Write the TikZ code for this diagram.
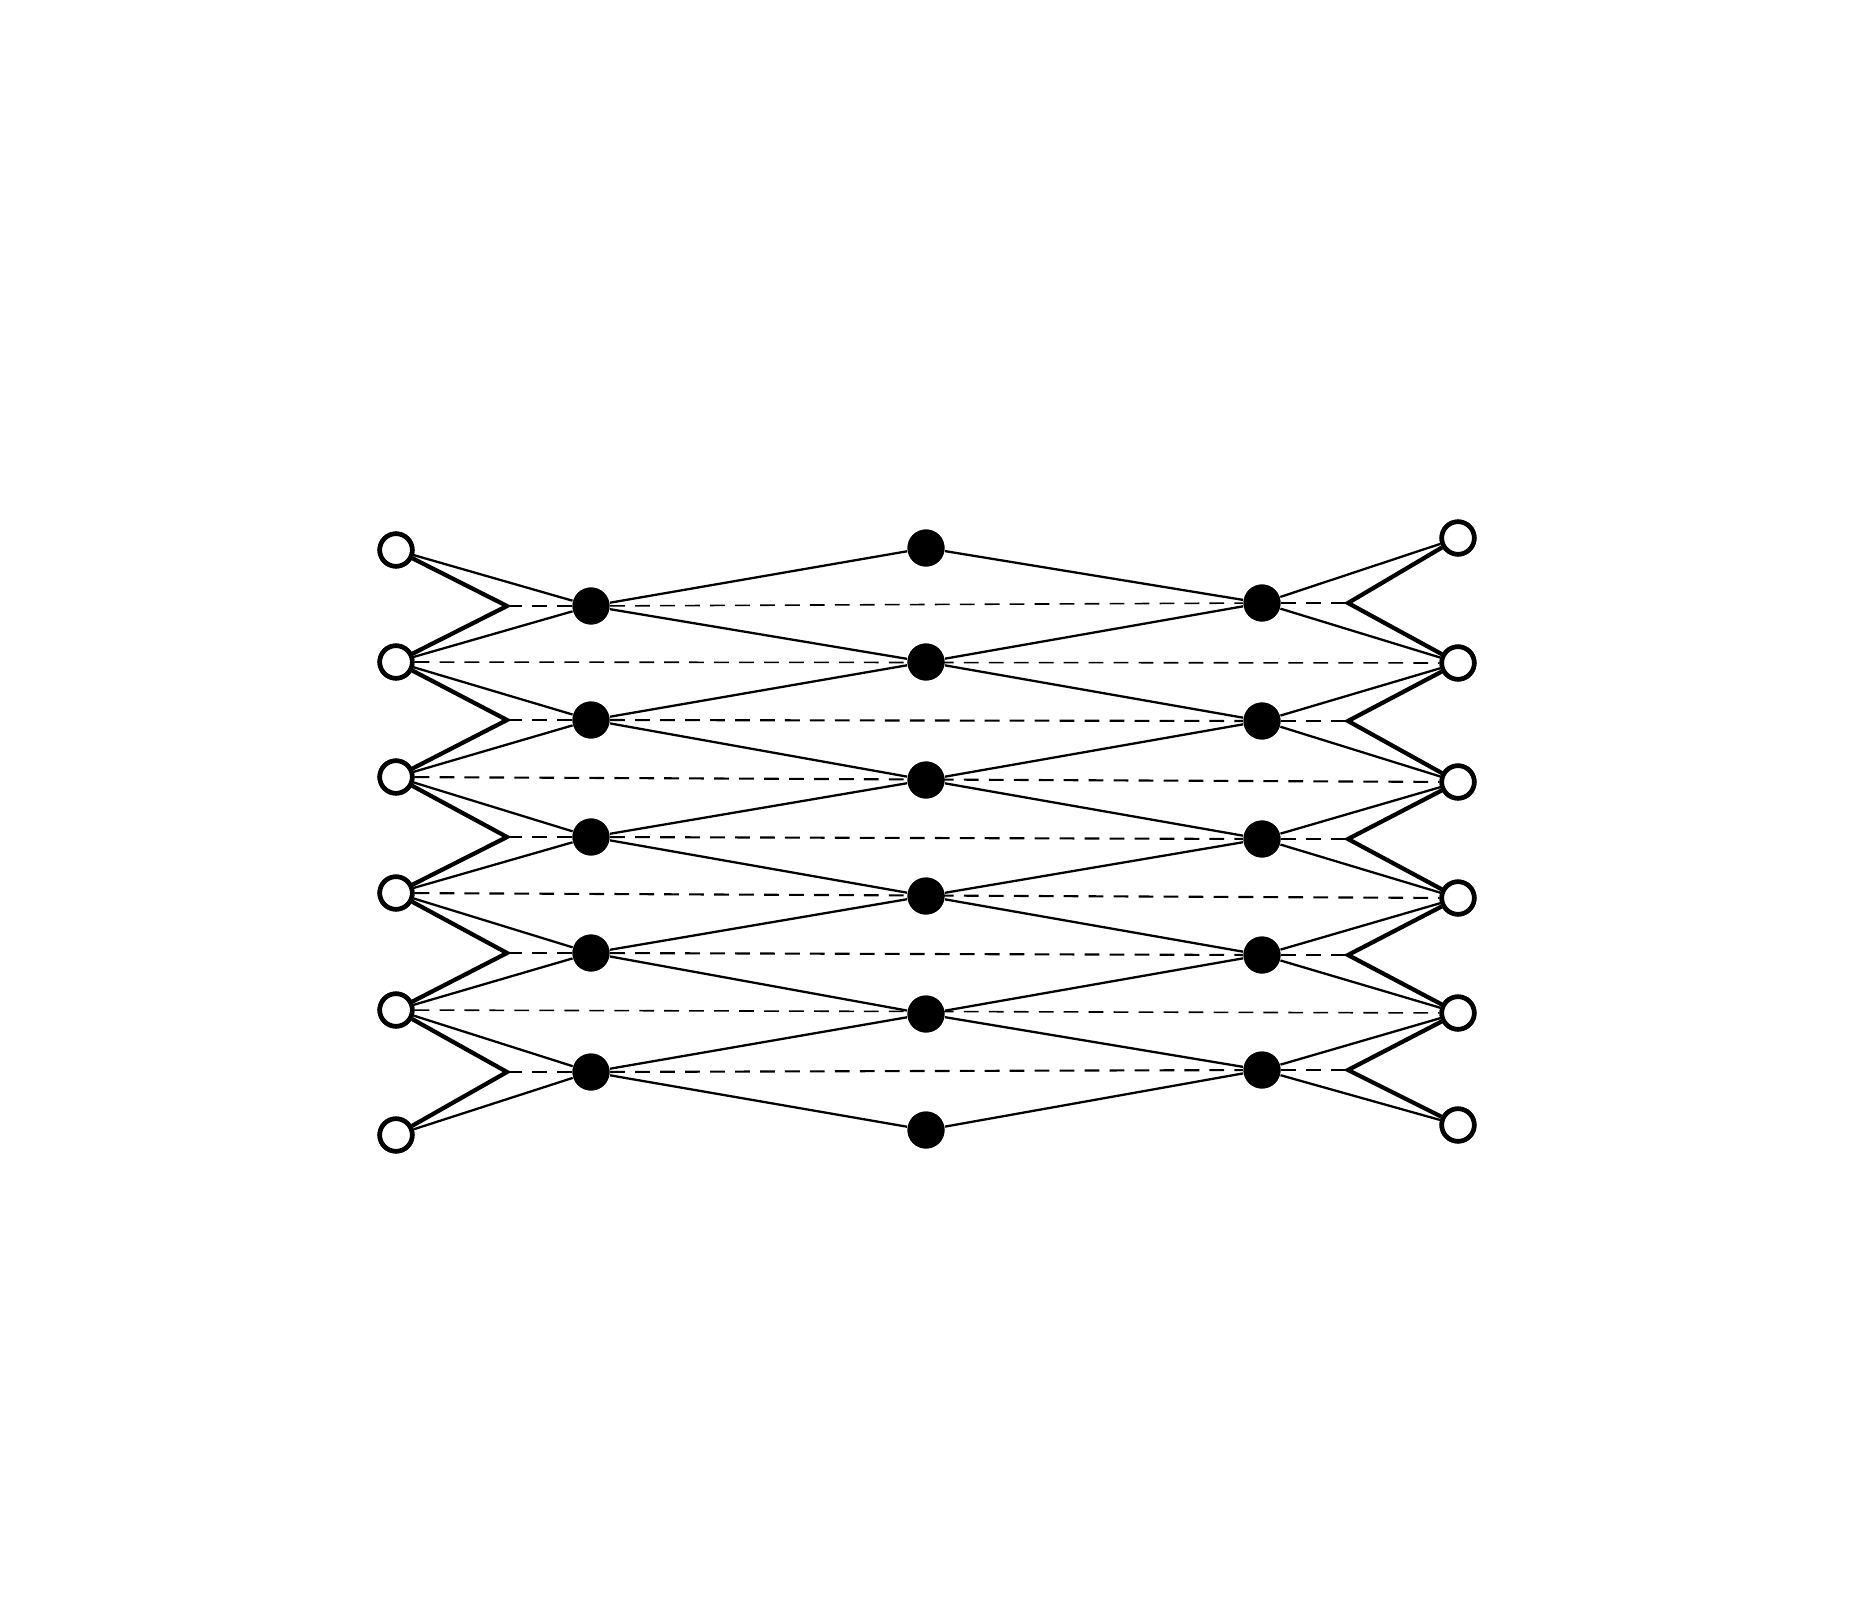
\documentclass[tikz,border=0pt]{standalone}
\begin{document}
\begin{tikzpicture}[x=0.01cm,y=-0.01cm,
  opendot/.style={circle,draw=black,fill=white,line width=1.3pt,inner sep=0pt,minimum size=0.325cm},
  fulldot/.style={circle,fill=black,draw=none,inner sep=0pt,minimum size=0.37cm},
  thinline/.style={line width=0.65pt},
  zigline/.style={line width=1.2pt,line join=miter},
  dashline/.style={line width=0.45pt,dash pattern=on 4.2pt off 2.9pt},
  dashheavy/.style={line width=0.6pt,dash pattern=on 4.2pt off 2.9pt}]
\useasboundingbox (0,0) rectangle (1854,1609);
% coordinates
\foreach \i/\y in {1/550,2/662,3/777,4/893,5/1010,6/1135} {\coordinate (Lc\i) at (396,\y);}
\foreach \i/\y in {1/538,2/663,3/782,4/898,5/1013,6/1125} {\coordinate (Rc\i) at (1458,\y);}
\foreach \i/\y in {1/548,2/662,3/780,4/896,5/1014,6/1130} {\coordinate (Mc\i) at (926,\y);}
\foreach \i/\y in {1/606,2/720,3/837,4/953,5/1072} {\coordinate (B\i) at (507,\y); \coordinate (Dc\i) at (591,\y);}
\foreach \i/\y in {1/603,2/721,3/839,4/955,5/1070} {\coordinate (RB\i) at (1348,\y); \coordinate (RDc\i) at (1262,\y);}
% nodes
\foreach \i in {1,...,6} {
  \node[opendot] (L\i) at (Lc\i) {};
  \node[opendot] (R\i) at (Rc\i) {};
  \node[fulldot] (M\i) at (Mc\i) {};
}
\foreach \i in {1,...,5} {
  \node[fulldot] (D\i) at (Dc\i) {};
  \node[fulldot] (RD\i) at (RDc\i) {};
}
% dashed rows
\foreach \i in {1,...,5} {
  \draw[dashline] (B\i) -- (D\i);
  \draw[dashline] (RD\i) -- (RB\i);
}
\draw[dashline] (D1) -- (RD1);
\foreach \i in {2,3,4,5} {\draw[dashheavy] (D\i) -- (RD\i);}
\foreach \i in {2,5} {\draw[dashline] (L\i) -- (R\i);}
\foreach \i in {3,4} {\draw[dashheavy] (L\i) -- (R\i);}
% zigzags and thin lines
\foreach \i [evaluate=\i as \j using int(\i+1)] in {1,...,5} {
  \draw[zigline] (L\i) -- (B\i) -- (L\j);
  \draw[zigline] (R\i) -- (RB\i) -- (R\j);
  \draw[thinline] (L\i) -- (D\i) -- (L\j);
  \draw[thinline] (R\i) -- (RD\i) -- (R\j);
  \draw[thinline] (M\i) -- (D\i) -- (M\j);
  \draw[thinline] (M\i) -- (RD\i) -- (M\j);
}
% redraw nodes on top
\foreach \i in {1,...,6} {
  \node[opendot] at (Lc\i) {};
  \node[opendot] at (Rc\i) {};
  \node[fulldot] at (Mc\i) {};
}
\foreach \i in {1,...,5} {
  \node[fulldot] at (Dc\i) {};
  \node[fulldot] at (RDc\i) {};
}
\end{tikzpicture}
\end{document}
